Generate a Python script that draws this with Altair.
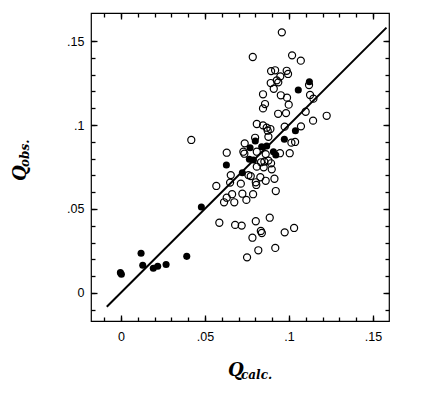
import altair as alt
import pandas as pd

# ---- data ----
open_x = [0.0957, 0.0784, 0.1018, 0.1070, 0.0893, 0.0917, 0.0986, 0.0994, 0.0948, 0.0927,
          0.0936, 0.0891, 0.0909, 0.1119, 0.0845, 0.0951, 0.0988, 0.1125, 0.1145, 0.0998,
          0.0857, 0.0845, 0.0935, 0.0982, 0.1099, 0.1224, 0.1143, 0.1071, 0.0808, 0.0845,
          0.0867, 0.0889, 0.0873, 0.0974, 0.0418, 0.0877, 0.0798, 0.1014, 0.1036, 0.0736,
          0.0629, 0.0728, 0.0734, 0.0861, 0.0946, 0.1004, 0.0808, 0.0833, 0.0853, 0.0877,
          0.0893, 0.0808, 0.0849, 0.0897, 0.0653, 0.0758, 0.0772, 0.0829, 0.0861, 0.0913,
          0.0649, 0.0713, 0.0802, 0.0805, 0.0567, 0.0921, 0.0661, 0.0629, 0.0722, 0.0786,
          0.0613, 0.0674, 0.0746, 0.0585, 0.0679, 0.0718, 0.0802, 0.0885, 0.0832, 0.0838,
          0.0782, 0.0974, 0.1030, 0.0817, 0.0918, 0.0750]
open_y = [0.1552, 0.1405, 0.1415, 0.1383, 0.1321, 0.1326, 0.1323, 0.1304, 0.1290, 0.1266,
          0.1254, 0.1250, 0.1216, 0.1238, 0.1183, 0.1177, 0.1163, 0.1179, 0.1157, 0.1121,
          0.1125, 0.1099, 0.1067, 0.1071, 0.1079, 0.1055, 0.1026, 0.0992, 0.1006, 0.0998,
          0.0984, 0.0976, 0.0966, 0.0990, 0.0911, 0.0930, 0.0924, 0.0895, 0.0899, 0.0891,
          0.0835, 0.0841, 0.0829, 0.0827, 0.0832, 0.0832, 0.0841, 0.0778, 0.0782, 0.0788,
          0.0772, 0.0752, 0.0748, 0.0736, 0.0702, 0.0702, 0.0696, 0.0689, 0.0668, 0.0680,
          0.0657, 0.0651, 0.0659, 0.0643, 0.0637, 0.0607, 0.0588, 0.0567, 0.0591, 0.0588,
          0.0540, 0.0540, 0.0554, 0.0418, 0.0405, 0.0401, 0.0427, 0.0448, 0.0369, 0.0357,
          0.0329, 0.0361, 0.0387, 0.0254, 0.0268, 0.0212]

filled_x = [0.1121, 0.1055, 0.1038, 0.0972, 0.0799, 0.0768, 0.0837, 0.0867, 0.0907, 0.0921,
            0.0627, 0.0764, 0.0788, 0.0722, 0.0478, 0.0119, -0.0004, 0.0002, 0.0129, 0.0192,
            0.0218, 0.0268, 0.0391]
filled_y = [0.1258, 0.1208, 0.0966, 0.0915, 0.0905, 0.0865, 0.0871, 0.0875, 0.0841, 0.0821,
            0.0762, 0.0796, 0.0792, 0.0716, 0.0512, 0.0236, 0.0121, 0.0111, 0.0165, 0.0147,
            0.0159, 0.0169, 0.0218]

line_x = [-0.0085, 0.158]
line_y = [-0.0082, 0.158]

major_ticks = [0, 0.05, 0.1, 0.15]
minor_ticks = [-0.01, 0.0, 0.01, 0.02, 0.03, 0.04, 0.05, 0.06, 0.07, 0.08,
               0.09, 0.1, 0.11, 0.12, 0.13, 0.14, 0.15]
x_domain = [-0.0179, 0.1595]
y_domain = [-0.0167, 0.1667]

open_df = pd.DataFrame({"x": open_x, "y": open_y})
filled_df = pd.DataFrame({"x": filled_x, "y": filled_y})
line_df = pd.DataFrame({"x": line_x, "y": line_y})

xs = alt.Scale(domain=x_domain, nice=False, zero=False)
ys = alt.Scale(domain=y_domain, nice=False, zero=False)

LABEL_EXPR = "datum.value == 0 ? '0' : replace(format(datum.value, '.2~f'), '0.', '.')"


def ax(orient, values, size, labels=False, pad=0):
    kw = dict(orient=orient, values=values, tickSize=size, offset=-size, domain=False,
              grid=False, title=None, tickColor="black", tickWidth=1.3, labels=labels)
    if labels:
        kw.update(labelExpr=LABEL_EXPR, labelPadding=pad, labelFont="Liberation Sans",
                  labelFontSize=12.5, labelColor="black")
    return alt.Axis(**kw)


open_layer = alt.Chart(open_df).mark_point(
    shape="circle", filled=False, color="black", size=50, strokeWidth=1.2, opacity=1
).encode(
    x=alt.X("x:Q", scale=xs, axis=ax("bottom", major_ticks, 6, True, 9)),
    y=alt.Y("y:Q", scale=ys, axis=ax("left", major_ticks, 6, True, 7)),
)

line_layer = alt.Chart(line_df).mark_line(color="black", strokeWidth=2).encode(
    x=alt.X("x:Q", scale=xs, axis=ax("top", major_ticks, 6)),
    y=alt.Y("y:Q", scale=ys, axis=ax("right", major_ticks, 6)),
)

filled_layer = alt.Chart(filled_df).mark_point(
    shape="circle", filled=True, color="black", size=50, strokeWidth=1, opacity=1
).encode(
    x=alt.X("x:Q", scale=xs, axis=ax("bottom", minor_ticks, 4)),
    y=alt.Y("y:Q", scale=ys, axis=ax("left", minor_ticks, 4)),
)

ghost_layer = alt.Chart(line_df).mark_point(opacity=0).encode(
    x=alt.X("x:Q", scale=xs, axis=ax("top", minor_ticks, 4)),
    y=alt.Y("y:Q", scale=ys, axis=ax("right", minor_ticks, 4)),
)

TITLE_FONT = "DejaVu Serif"

xq = alt.Chart(pd.DataFrame({"t": ["Q"]})).mark_text(
    font=TITLE_FONT, fontSize=18, fontWeight="bold", fontStyle="italic",
    align="left", baseline="alphabetic", color="black"
).encode(text="t:N", x=alt.value(137), y=alt.value(363))

xsub = alt.Chart(pd.DataFrame({"t": ["calc."]})).mark_text(
    font=TITLE_FONT, fontSize=12, fontWeight="bold", fontStyle="italic",
    align="left", baseline="alphabetic", color="black"
).encode(text="t:N", x=alt.value(150), y=alt.value(366))

yq = alt.Chart(pd.DataFrame({"t": ["Q"]})).mark_text(
    font=TITLE_FONT, fontSize=18, fontWeight="bold", fontStyle="italic",
    align="left", baseline="alphabetic", color="black", angle=270
).encode(text="t:N", x=alt.value(-65), y=alt.value(168))

ysub = alt.Chart(pd.DataFrame({"t": ["obs."]})).mark_text(
    font=TITLE_FONT, fontSize=12, fontWeight="bold", fontStyle="italic",
    align="left", baseline="alphabetic", color="black", angle=270
).encode(text="t:N", x=alt.value(-62), y=alt.value(154))

chart = alt.layer(
    open_layer, line_layer, filled_layer, ghost_layer, xq, xsub, yq, ysub
).resolve_scale(
    x="independent", y="independent"
).properties(
    width=298, height=308,
    autosize=alt.AutoSizeParams(type="none"),
    padding={"left": 83, "top": 5, "right": 30, "bottom": 62},
    background="white",
).configure_view(
    stroke="black", strokeWidth=1.2
).configure_axis(
    tickColor="black", labelColor="black"
)

chart.save("out.html", embed_options={"renderer": "svg", "actions": False})
